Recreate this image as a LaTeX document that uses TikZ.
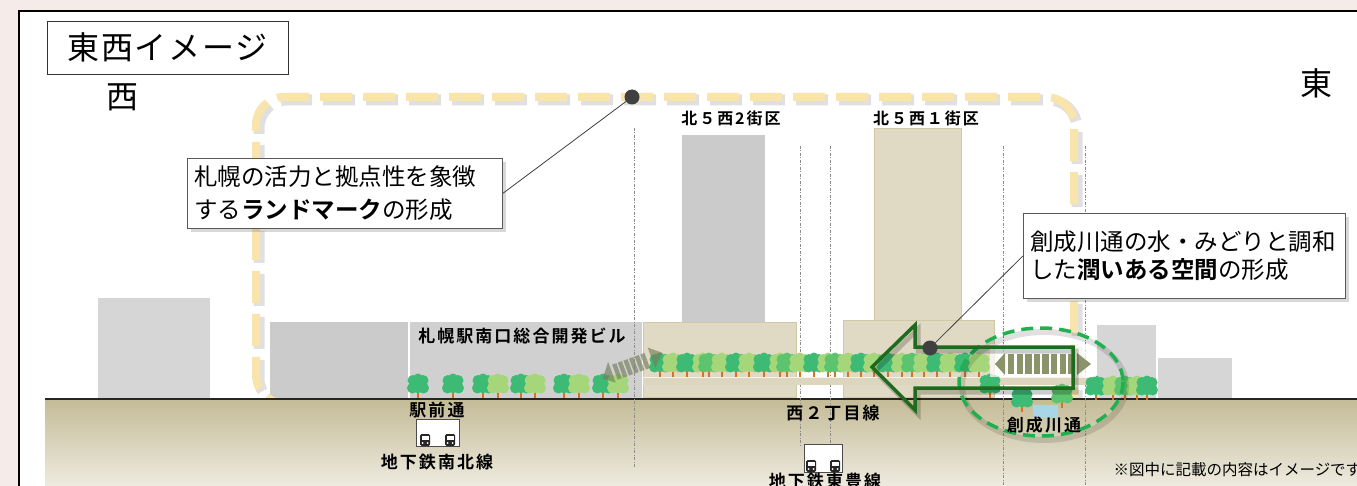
\documentclass[tikz,border=0pt]{standalone}
\usepackage{fontspec}
\setmainfont{Noto Sans CJK JP}[BoldFont={* Bold}]
\usetikzlibrary{shadows}

\definecolor{bgpink}{HTML}{F5ECEA}
\definecolor{bldgray}{HTML}{D6D6D6}
\definecolor{bldbeige}{HTML}{E0DAC4}
\definecolor{bldedge}{HTML}{D2C8A4}
\definecolor{routeyel}{HTML}{F9E4AC}
\definecolor{groundtop}{HTML}{C4BB96}
\definecolor{groundbot}{HTML}{EEEBE0}
\definecolor{treeA}{HTML}{3DBA74}
\definecolor{treeB}{HTML}{A5D67A}
\definecolor{treeC}{HTML}{5CC46E}
\definecolor{trunk}{HTML}{D8731A}
\definecolor{deckbar}{HTML}{DDD6BF}
\definecolor{arrowgreen}{HTML}{1E6B1E}
\definecolor{ringgreen}{HTML}{1FB050}
\definecolor{bridgeol}{HTML}{8A936A}
\definecolor{dotgray}{HTML}{404040}
\definecolor{water}{HTML}{A9D6E6}

\newcommand{\lblfont}[1]{\fontsize{#1}{#1}\selectfont\bfseries\addfontfeature{LetterSpace=12}}

\begin{document}
\begin{tikzpicture}[x=1pt,y=-1pt]
  \tikzstyle{block}=[fill=bldgray]
  \tikzstyle{house}=[fill=bldbeige,draw=bldedge,line width=1pt]
  \tikzstyle{label}=[font=\lblfont{17},inner sep=0pt]
  \tikzstyle{blocklabel}=[font=\lblfont{16},inner sep=0pt]
  \tikzstyle{callout}=[draw=black!65,fill=white,line width=0.8pt,align=left,inner xsep=7pt,
    font=\fontsize{23.5}{28}\selectfont,
    drop shadow={shadow xshift=4pt,shadow yshift=-4pt,opacity=0.3}]
  \tikzstyle{sep}=[black!45,line width=0.6pt,dash pattern=on 3pt off 1.5pt on 1pt off 1.5pt]
  \tikzstyle{pin}=[circle,fill=dotgray,minimum size=15pt,inner sep=0pt]
  \tikzstyle{subway}=[draw=black!70,fill=white,line width=0.8pt,inner sep=0pt]
  \tikzset{
    pics/tree/.style={code={
      \fill[trunk] (-1.3,0) rectangle (1.3,-9);
      \fill[#1] (0,-13) circle (8) (-5.5,-10) circle (5.5) (5.5,-10) circle (5.5)
                (-5,-17.5) circle (5.5) (5,-17.5) circle (5.5) (0,-20) circle (4.5);
    }},
    pics/train/.style={code={
      \fill[black!85,rounded corners=1.5pt] (-5,0) rectangle (5,-12);
      \fill[white] (-3.5,-10) rectangle (3.5,-6.5);
      \fill[white] (-2.5,-3) circle (1) (2.5,-3) circle (1);
    }}
  }

  \useasboundingbox (0,0) rectangle (1357,486);
  \fill[bgpink] (0,0) rectangle (1357,486);
  \draw[line width=2.5pt,fill=white] (19,11) rectangle (1400,520);

  % buildings
  \fill[block] (98,298) rectangle (210,399);
  \fill[block,fill=bldgray!95!black] (270,322) rectangle (408,399);
  \fill[block,fill=bldgray!97!black] (410,322) rectangle (642,399);
  \fill[block,fill=bldgray!95!black] (682,135) rectangle (765,330);
  \fill[block] (1097,325) rectangle (1156,399);
  \fill[block] (1158,358) rectangle (1232,399);
  \filldraw[house] (874,129) rectangle (961,320);
  \filldraw[house] (643,322) rectangle (796,397);
  \filldraw[house] (843,320) rectangle (994,397);

  % east-west route
  \draw[black,opacity=0.12,line width=11pt,dash pattern=on 32pt off 11pt,rounded corners=28pt]
    (300,406) -- (259,406) -- (259,100) -- (1077,100) -- (1077,406);
  \draw[routeyel,line width=8pt,dash pattern=on 32pt off 11pt,rounded corners=28pt]
    (297,403) -- (256,403) -- (256,97) -- (1074,97) -- (1074,403);

  % ground
  \shade[top color=groundtop,bottom color=groundbot] (45,399) rectangle (1357,486);
  \draw[line width=1.2pt,black!85] (45,399) -- (1357,399);

  % block boundaries
  \draw[sep] (634,128) -- (634,468);
  \draw[sep] (800,146) -- (800,446);
  \draw[sep] (830,146) -- (830,446);
  \draw[sep] (1003,146) -- (1003,486);
  \draw[sep] (1085,146) -- (1085,486);

  % deck and trees
  \fill[deckbar] (643,377) rectangle (1092,385);
  \draw[white!70!deckbar,line width=1pt] (643,377.5) -- (1092,377.5);
  \foreach \x/\c in {418/treeA,453/treeA,483/treeA,498/treeB,521/treeA,535/treeB,
                     564/treeA,579/treeB,603/treeA,618/treeB}
    \pic at (\x,398) {tree=\c};
  \foreach \x/\c in {660/treeA,673/treeB,687/treeA,703/treeB,709/treeC,722/treeB,
                     736/treeA,749/treeB,764/treeA,780/treeB,787/treeC,800/treeB,
                     814/treeA,828/treeB,835/treeC,848/treeB,861/treeA,874/treeB,
                     888/treeA,902/treeB,912/treeC,924/treeB,937/treeA,950/treeB,
                     965/treeA,979/treeB}
    \pic at (\x,377) {tree=\c};
  \foreach \x/\c in {1096/treeA,1113/treeB,1125/treeC,1137/treeB,1147/treeA}
    \pic at (\x,400) {tree=\c};
  \pic at (990,398) {tree=treeA};

  % creek
  \fill[water] (1033,405) rectangle (1058,418);
  \pic at (1022,412) {tree=treeA};
  \pic at (1062,408) {tree=treeC};

  % pedestrian links
  \begin{scope}[shift={(632,366)},rotate=20,opacity=0.65]
    \foreach \s in {-16,-10,...,16}
      \fill[bridgeol!85!black] (\s-2.2,-8) rectangle (\s+2.2,8);
    \fill[bridgeol!85!black] (-21,-12) -- (-32,2) -- (-21,10) -- cycle;
    \fill[bridgeol!85!black] (21,-12) -- (33,-2) -- (21,10) -- cycle;
  \end{scope}
  \fill[white,opacity=0.7] (990,344) rectangle (1096,377);
  \fill[bridgeol] (995,364) -- (1005,353) -- (1005,375) -- cycle;
  \fill[bridgeol] (1091,364) -- (1077,353) -- (1077,375) -- cycle;
  \foreach \k in {0,...,7}
    \fill[bridgeol] (1008+\k*8.6,354) rectangle +(6.4,20);

  % green space ring
  \draw[black,opacity=0.12,line width=6pt] (1044,386) ellipse [x radius=82, y radius=54];
  \draw[ringgreen,line width=3.5pt,dash pattern=on 12pt off 7pt] (1041,382) ellipse [x radius=82, y radius=54];

  % westward arrow
  \draw[black,opacity=0.2,line width=5pt,line join=miter]
    (875,371) -- (918,329) -- (918,351) -- (1076,351) -- (1076,392) -- (918,392) -- (918,414) -- cycle;
  \draw[arrowgreen,line width=3.5pt,line join=miter]
    (872,367) -- (915,325) -- (915,347) -- (1073,347) -- (1073,388) -- (915,388) -- (915,410) -- cycle;

  % callouts
  \node[callout,anchor=north west,text width=301pt,minimum height=70pt] (landmark) at (187,158)
    {札幌の活力と拠点性を象徴\\[5pt]する\textbf{ランドマーク}の形成};
  \node[pin] (pin1) at (632,97) {};
  \draw[black!75,line width=0.8pt] (landmark.east) -- (pin1);
  \node[callout,anchor=north west,text width=308pt,minimum height=85pt] (oasis) at (1023,213)
    {創成川通の水・みどりと調和\\した\textbf{潤いある空間}の形成};
  \node[pin] (pin2) at (930,348) {};
  \draw[black!75,line width=0.8pt] (oasis.west) -- (pin2);

  % subway stations
  \node[subway,minimum width=43pt,minimum height=27pt] (nanbokuSta) at (437.5,432.5) {};
  \pic at (425,446) {train};
  \pic at (450,446) {train};
  \node[subway,minimum width=38pt,minimum height=28pt] (tohoSta) at (823,458) {};
  \pic at (811,472) {train};
  \pic at (835,472) {train};

  % labels
  \node[blocklabel] (kita52) at (731,118) {北５西2街区};
  \node[blocklabel] (kita51) at (926,118) {北５西１街区};
  \node[label] (ekinan) at (522,336) {札幌駅南口総合開発ビル};
  \node[label] (ekimae) at (437,410) {駅前通};
  \node[label] (nanboku) at (437,462) {地下鉄南北線};
  \node[label] (nishi2) at (833,413) {西２丁目線};
  \node[label] (toho) at (825,481) {地下鉄東豊線};
  \node[label] (sosei) at (1044,425) {創成川通};

  \node[draw=black!80,line width=0.8pt,minimum width=241pt,minimum height=53pt,
        font=\fontsize{32}{32}\selectfont\addfontfeature{LetterSpace=5}] (title) at (167.5,47.5) {東西イメージ};
  \node[font=\fontsize{32}{32}\selectfont] (west) at (122,97) {西};
  \node[font=\fontsize{32}{32}\selectfont] (east) at (1316,83) {東};
  \node[anchor=west,font=\fontsize{15.5}{15.5}\selectfont] (note) at (1110,470)
    {※図中に記載の内容はイメージです};
\end{tikzpicture}
\end{document}
